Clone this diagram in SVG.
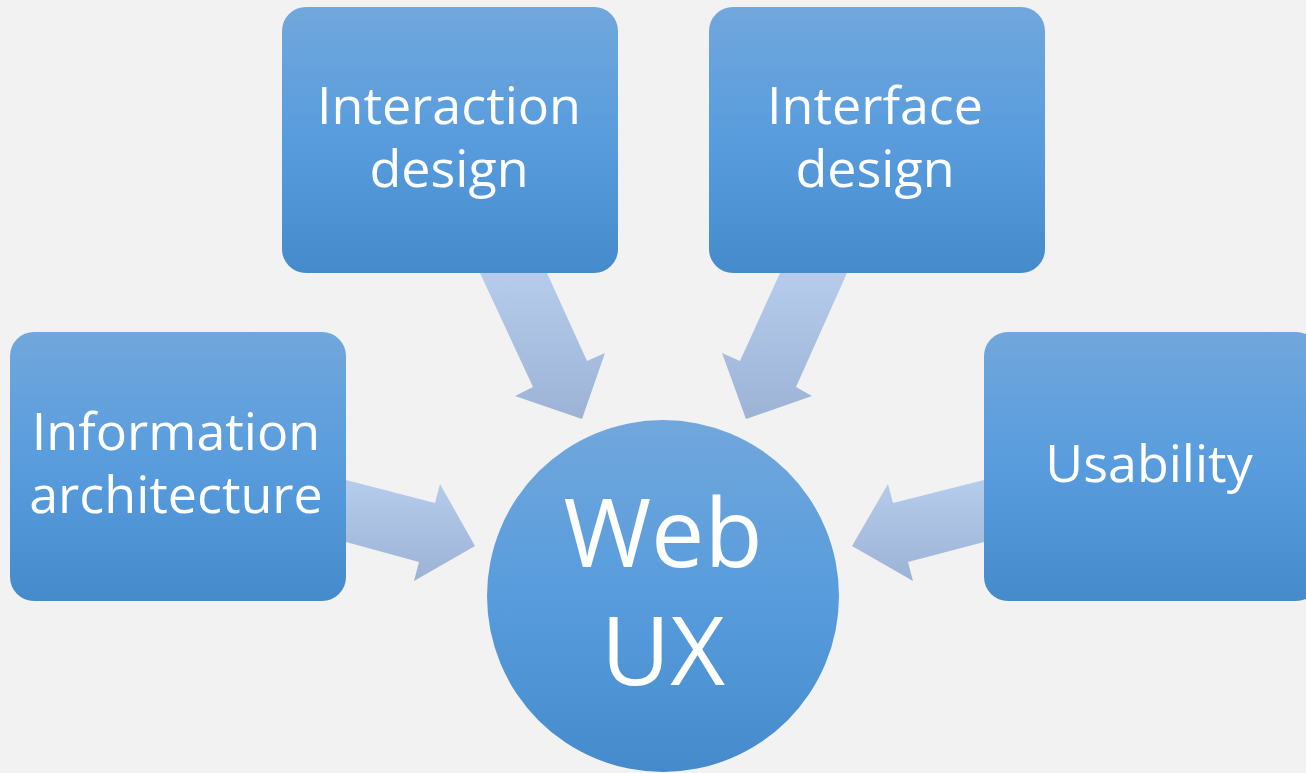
<svg xmlns="http://www.w3.org/2000/svg" width="1306" height="773" viewBox="0 0 1306 773">
<defs>
<linearGradient id="boxg" x1="0" y1="0" x2="0" y2="1">
<stop offset="0" stop-color="#71a7dc"/>
<stop offset="0.5" stop-color="#589cdd"/>
<stop offset="1" stop-color="#458bcb"/>
</linearGradient>
<linearGradient id="arrg" x1="0" y1="0" x2="0" y2="1">
<stop offset="0" stop-color="#b5ccec"/>
<stop offset="1" stop-color="#9cb3d6"/>
</linearGradient>
<style>
.box{fill:url(#boxg);}
.arr{fill:url(#arrg);}
.t{font-family:"Open Sans","Liberation Sans",sans-serif;fill:#ffffff;text-anchor:middle;font-size:52px;}
.big{font-size:95px;}
</style>
</defs>
<rect width="1306" height="773" fill="#f2f2f2"/>
<g id="connectors">
<polygon class="arr" points="480,273 547,273 587,361 605,353 582,419 515,396 533,387"/>
<polygon class="arr" points="780,273 847,273 796,387 812,396 746,419 722,353 740,361"/>
<polygon class="arr" points="346,480 435,503 440,484 475,546 414,581 419,562 346,542"/>
<polygon class="arr" points="984,480 893,503 888,484 852,546 913,581 908,562 984,542"/>
</g>
<g id="interaction">
<rect class="box" x="282" y="7" width="336" height="266" rx="24"/>
<text class="t" x="449" y="124">Interaction</text>
<text class="t" x="449" y="187">design</text>
</g>
<g id="interface">
<rect class="box" x="709" y="7" width="336" height="266" rx="24"/>
<text class="t" x="875" y="124">Interface</text>
<text class="t" x="875" y="187">design</text>
</g>
<g id="information">
<rect class="box" x="10" y="332" width="336" height="269" rx="24"/>
<text class="t" x="176" y="450">Information</text>
<text class="t" x="176" y="513">architecture</text>
</g>
<g id="usability">
<rect class="box" x="984" y="332" width="336" height="269" rx="24"/>
<text class="t" x="1149" y="482">Usability</text>
</g>
<g id="webux">
<circle class="box" cx="663" cy="596" r="176"/>
<text class="t big" x="663" y="567">Web</text>
<text class="t big" x="663" y="685">UX</text>
</g>
</svg>
